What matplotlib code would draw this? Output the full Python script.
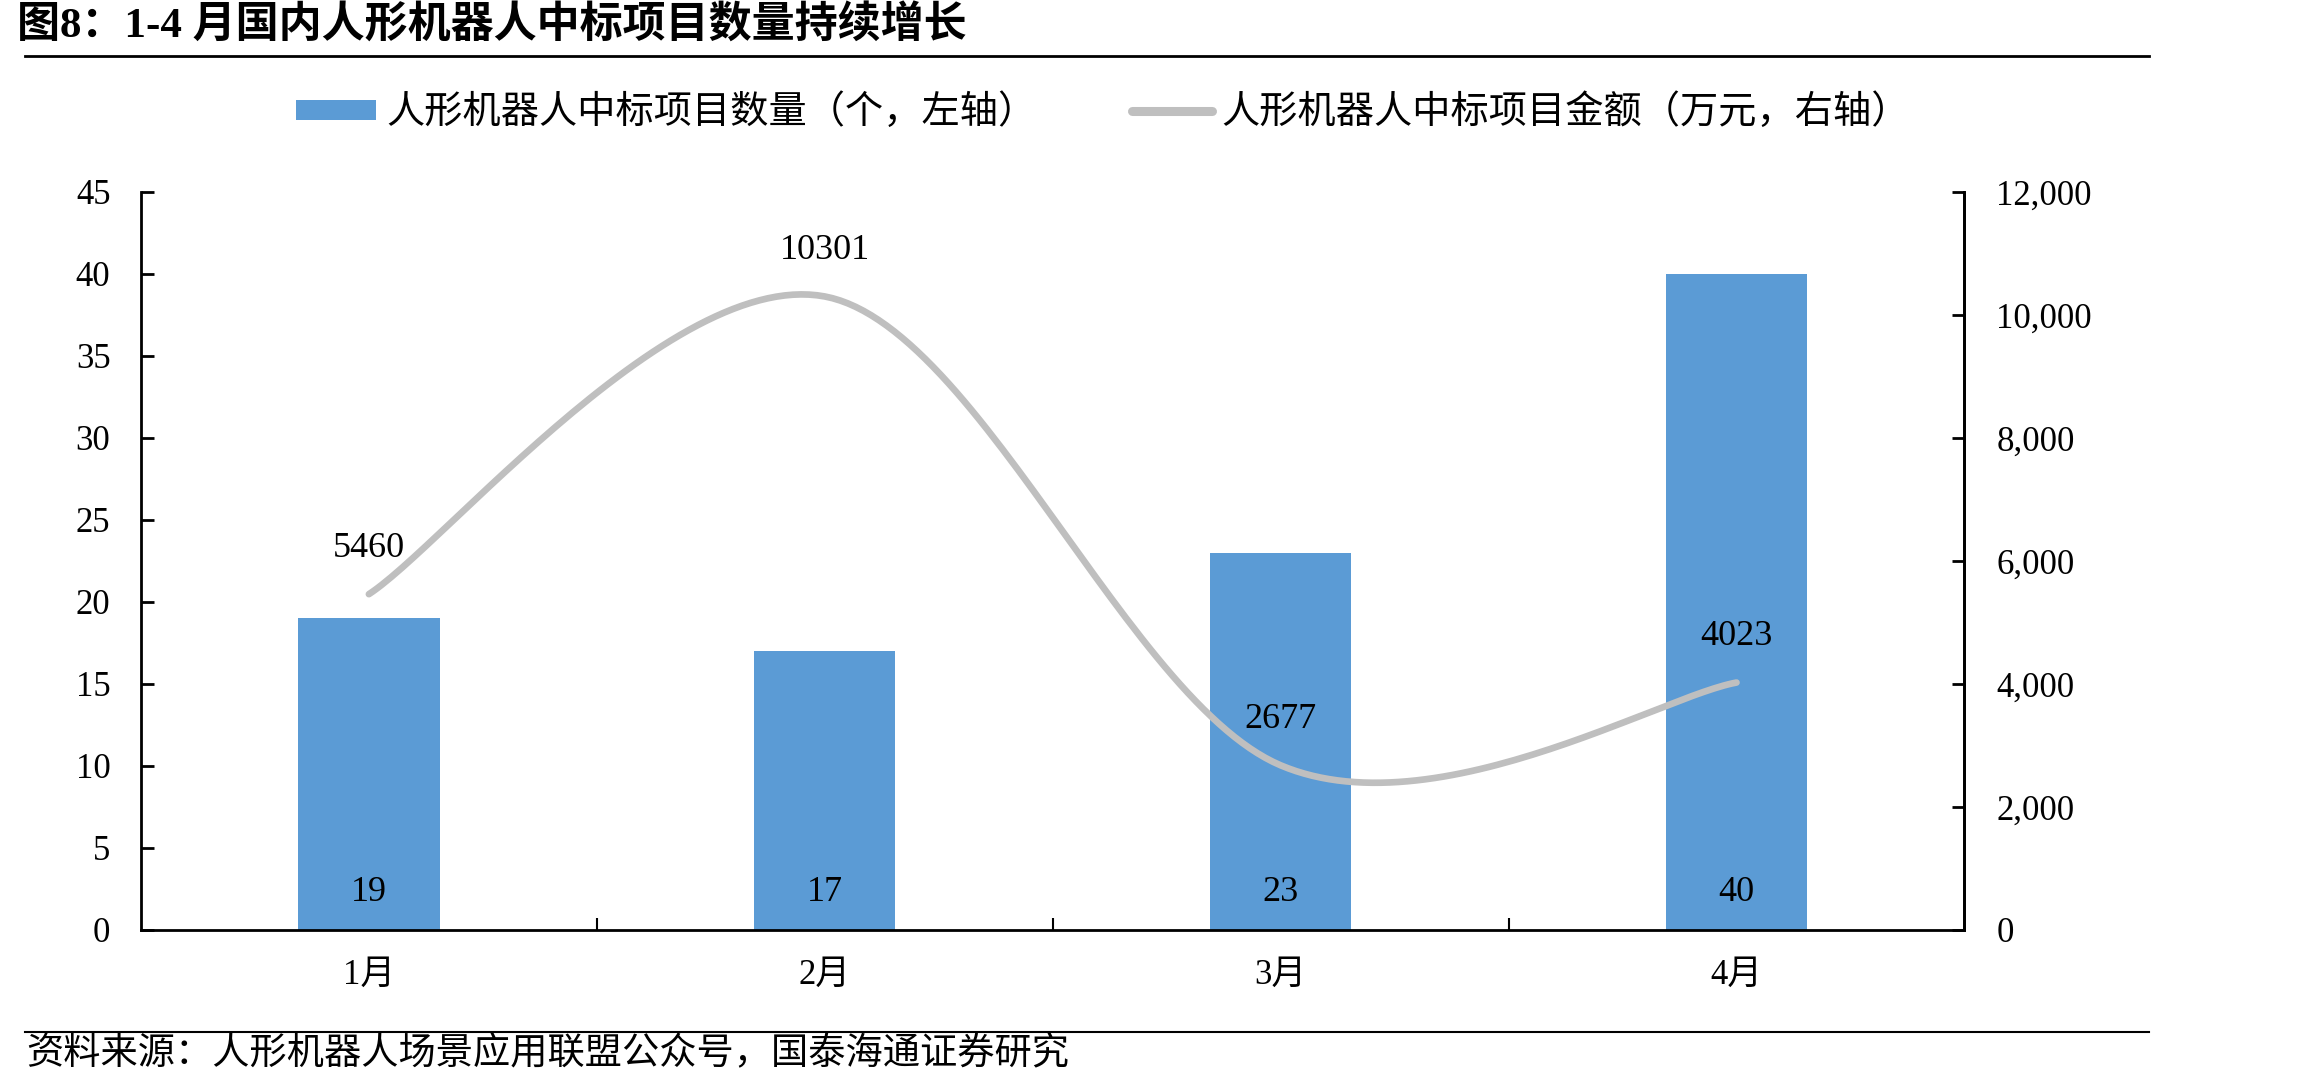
import numpy as np
import matplotlib
matplotlib.use("Agg")
import matplotlib.pyplot as plt
from matplotlib.lines import Line2D
from matplotlib.patches import Patch
from matplotlib.ticker import FuncFormatter, FixedLocator

months = ["1月", "2月", "3月", "4月"]
counts = [19, 17, 23, 40]
amounts = [5460, 10301, 2677, 4023]

FAM = ["Liberation Serif", "Noto Sans CJK SC"]
plt.rcParams["font.family"] = FAM

BAR_C = "#5B9BD5"
LINE_C = "#BFBFBF"


def smooth(xs, ys, n=60):
    # excel-like smoothed line (catmull-rom as cubic bezier)
    p = np.column_stack([xs, ys]).astype(float)
    p = np.vstack([p[0], p, p[-1]])
    out = []
    for i in range(1, len(p) - 2):
        p0, p1, p2, p3 = p[i - 1], p[i], p[i + 1], p[i + 2]
        c1 = p1 + (p2 - p0) / 6
        c2 = p2 - (p3 - p1) / 6
        t = np.linspace(0, 1, n)[:, None]
        seg = (1 - t) ** 3 * p1 + 3 * (1 - t) ** 2 * t * c1 + 3 * (1 - t) * t ** 2 * c2 + t ** 3 * p2
        out.append(seg if i == 1 else seg[1:])
    out = np.vstack(out)
    return out[:, 0], out[:, 1]


fig = plt.figure(figsize=(23.03, 10.92), dpi=100)
ax = fig.add_axes([0.0612, 0.1484, 0.7918, 0.6758])
ax2 = ax.twinx()

x = np.arange(len(months))
ax.bar(x, counts, width=0.31, color=BAR_C, zorder=2)
for xi, v in zip(x, counts):
    ax.text(xi, 2.3, str(v), ha="center", va="center", fontsize=26, zorder=5)

sx, sy = smooth(x, amounts)
ax2.plot(sx, sy, color=LINE_C, lw=4.8, solid_capstyle="round", zorder=3)
for xi, v in zip(x, amounts):
    ax2.annotate(str(v), (xi, v), xytext=(0, 21), textcoords="offset points",
                 ha="center", va="bottom", fontsize=26)

ax.set_xlim(-0.5, 3.5)
ax.set_ylim(0, 45)
ax.set_yticks(range(0, 46, 5))
ax2.set_ylim(0, 12000)
ax2.set_yticks(range(0, 12001, 2000))
ax2.yaxis.set_major_formatter(FuncFormatter(lambda v, p: f"{int(v):,}"))

ax.set_xticks(x)
ax.set_xticklabels(months)
ax.xaxis.set_minor_locator(FixedLocator([0.5, 1.5, 2.5]))
ax.tick_params(axis="x", which="major", length=0, labelsize=25, pad=21)
ax.tick_params(axis="x", which="minor", direction="in", length=9, width=1.5)
ax.tick_params(axis="y", direction="in", length=9, width=2, labelsize=25, pad=22)
ax2.tick_params(axis="y", direction="in", length=9, width=2, labelsize=25, pad=23)

for a in (ax, ax2):
    a.spines["top"].set_visible(False)
    for s in ("left", "right", "bottom"):
        a.spines[s].set_linewidth(2)
ax2.spines["left"].set_visible(False)
ax2.spines["bottom"].set_visible(False)

handles = [Patch(facecolor=BAR_C, edgecolor="none"),
           Line2D([], [], color=LINE_C, lw=6.5, solid_capstyle="round")]
labels = ["人形机器人中标项目数量（个，左轴）", "人形机器人中标项目金额（万元，右轴）"]
fig.legend(handles, labels, loc="center", bbox_to_anchor=(0.479, 0.8965), ncol=2,
           frameon=False, fontsize=27.5, handlelength=2.1, handleheight=0.45,
           handletextpad=0.25, columnspacing=2.5)

fig.text(0.0074, 0.976, "图8：1-4 月国内人形机器人中标项目数量持续增长", fontsize=31,
         fontweight="bold", ha="left", va="center")
fig.add_artist(Line2D([0.011, 0.933], [0.9487, 0.9487], color="black", lw=2))
fig.add_artist(Line2D([0.011, 0.933], [0.055, 0.055], color="black", lw=1.5))
fig.text(0.0113, 0.034, "资料来源：人形机器人场景应用联盟公众号，国泰海通证券研究", fontsize=26.8,
         ha="left", va="center")

fig.savefig("out.png", dpi=100)
